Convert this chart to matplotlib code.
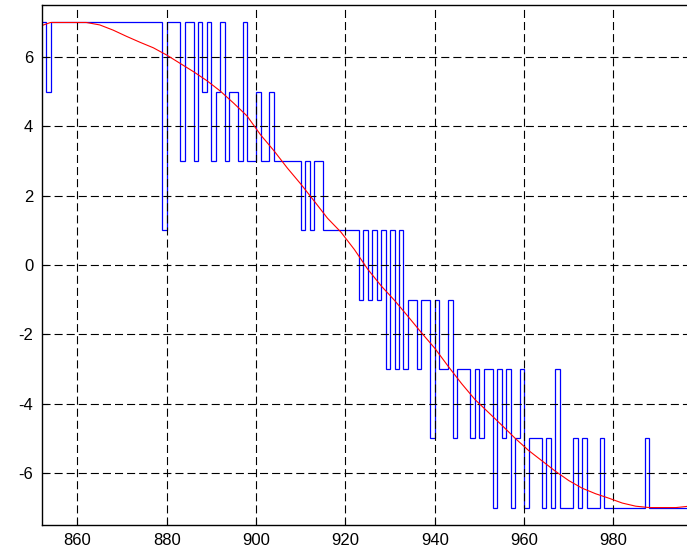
import numpy as np
import matplotlib
matplotlib.use('Agg')
import matplotlib.pyplot as plt

# quantized samples, one per integer index, held until the next one
start = 852
quant = [7, 5] + [7] * 25 + [
    1, 7, 7, 7, 3, 7, 7, 3, 7, 5, 7, 3, 5, 7, 3, 5, 5, 3, 7,      # 879-897
    3, 3, 5, 3, 3, 5, 3, 3, 3, 3, 3, 3, 1, 3, 1, 3, 3,            # 898-914
    1, 1, 1, 1, 1, 1, 1, 1,                                       # 915-922
    -1, 1, -1, 1, -1, 1, -3, 1, -3, 1, -3, -1, -1, -3, -1, -1,    # 923-938
    -5, -1, -3, -3, -1, -5, -3, -3, -3, -5, -3, -5, -3, -3,       # 939-952
    -7, -3, -5, -3, -7, -5, -3, -7, -5, -5, -5, -7, -5, -7, -3,   # 953-967
    -7, -7, -7, -5, -7, -5, -7, -7, -7, -5,                       # 968-977
    -7, -7, -7, -7, -7, -7, -7, -7, -7, -5,                       # 978-987
    -7, -7, -7, -7, -7, -7, -7, -7, -7]                           # 988-996

# smooth reference signal
ref_x = [852, 854, 858, 862, 865, 868, 871, 874, 877, 880, 883, 886, 889,
         892, 895, 898, 901, 904, 907, 910, 913, 916, 919, 922, 925, 928,
         931, 934, 937, 940, 943, 946, 949, 952, 955, 958, 961, 964, 967,
         970, 973, 976, 979, 982, 985, 988, 991, 994, 997]
ref_y = [6.91, 7.0, 7.0, 7.0, 6.93, 6.78, 6.60, 6.43, 6.27, 6.06, 5.82, 5.58,
         5.32, 5.02, 4.67, 4.30, 3.76, 3.30, 2.80, 2.34, 1.85, 1.35, 0.95,
         0.45, -0.12, -0.60, -1.02, -1.48, -1.95, -2.40, -2.92, -3.42, -3.88,
         -4.25, -4.62, -5.00, -5.35, -5.65, -5.95, -6.22, -6.44, -6.60, -6.73,
         -6.87, -6.96, -7.0, -7.0, -7.0, -6.96]

xticks = [860, 880, 900, 920, 940, 960, 980]
yticks = [-6, -4, -2, 0, 2, 4, 6]

plt.rcParams['font.family'] = ['Liberation Sans', 'DejaVu Sans']
plt.rcParams['lines.scale_dashes'] = False
plt.rcParams['axes.unicode_minus'] = False

fig = plt.figure(figsize=(6.87, 5.49), dpi=100)
ax = fig.add_axes([0.0606, 0.0439, 0.9428, 0.9467])

edges = np.arange(start, start + len(quant) + 1)
ax.stairs(quant, edges, baseline=None, color=(0, 0, 1), linewidth=0.9)
ax.plot(ref_x, ref_y, color=(1, 0, 0), linewidth=0.8)

ax.set_xlim(852, 997)
ax.set_ylim(-7.5, 7.5)
ax.set_xticks(xticks)
ax.set_yticks(yticks)
ax.grid(True, color='k', linestyle=(0, (5.8, 2.9)), linewidth=0.8)
ax.tick_params(direction='in', length=4, labelsize=12, pad=6, colors='k')
for s in ax.spines.values():
    s.set_linewidth(1.0)

fig.savefig('out.png', dpi=100)
